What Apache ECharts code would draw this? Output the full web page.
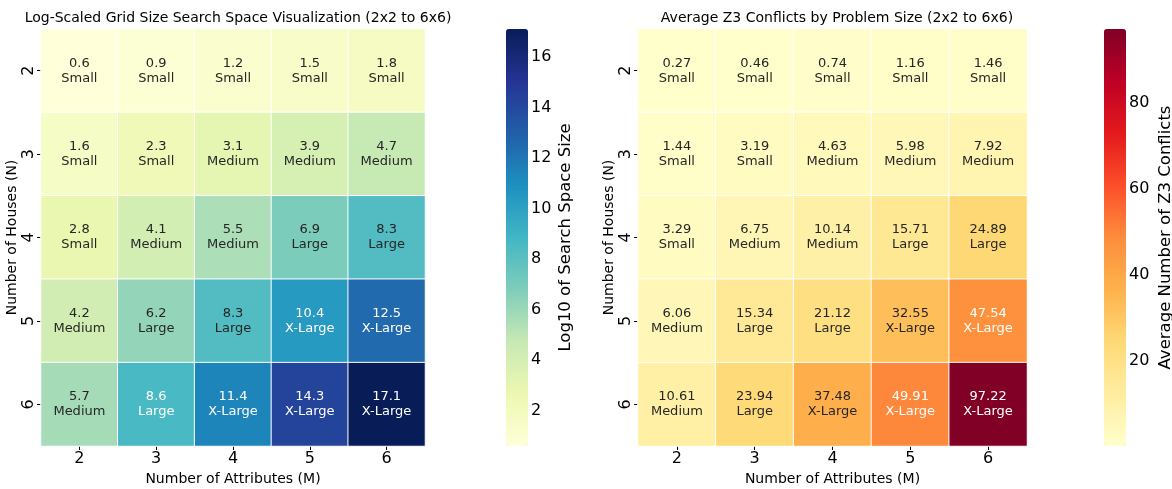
<!DOCTYPE html>
<html>
<head>
<meta charset="utf-8">
<script src="https://cdn.jsdelivr.net/npm/echarts@6/dist/echarts.min.js"></script>
<style>
  html, body { margin: 0; padding: 0; background: #fff; }
  #main { width: 1172px; height: 489px; }
</style>
</head>
<body>
<div id="main"></div>
<script>
// categories
const attrs = ["2", "3", "4", "5", "6"];   // M (x)
const houses = ["2", "3", "4", "5", "6"];  // N (y)

// log10 search space size, rows N=2..6, cols M=2..6
const logSize = [
  [0.6, 0.9, 1.2, 1.5, 1.8],
  [1.6, 2.3, 3.1, 3.9, 4.7],
  [2.8, 4.1, 5.5, 6.9, 8.3],
  [4.2, 6.2, 8.3, 10.4, 12.5],
  [5.7, 8.6, 11.4, 14.3, 17.1]
];

// average z3 conflicts
const conflicts = [
  [0.27, 0.46, 0.74, 1.16, 1.46],
  [1.44, 3.19, 4.63, 5.98, 7.92],
  [3.29, 6.75, 10.14, 15.71, 24.89],
  [6.06, 15.34, 21.12, 32.55, 47.54],
  [10.61, 23.94, 37.48, 49.91, 97.22]
];

// size category per cell
const sizeLabels = [
  ["Small", "Small", "Small", "Small", "Small"],
  ["Small", "Small", "Medium", "Medium", "Medium"],
  ["Small", "Medium", "Medium", "Large", "Large"],
  ["Medium", "Large", "Large", "X-Large", "X-Large"],
  ["Medium", "Large", "X-Large", "X-Large", "X-Large"]
];

const logTicks = [2, 4, 6, 8, 10, 12, 14, 16];
const conflictTicks = [20, 40, 60, 80];

const YlGnBu = ["#ffffd9", "#edf8b1", "#c7e9b4", "#7fcdbb", "#41b6c4", "#1d91c0", "#225ea8", "#253494", "#081d58"];
const YlOrRd = ["#ffffcc", "#ffeda0", "#fed976", "#feb24c", "#fd8d3c", "#fc4e2a", "#e31a1c", "#bd0026", "#800026"];

const FONT = "DejaVu Sans";

function flatMin(m) { return Math.min.apply(null, m.flat()); }
function flatMax(m) { return Math.max.apply(null, m.flat()); }

// build heatmap items, text goes white on dark cells
function buildData(mat, whiteAbove) {
  const out = [];
  mat.forEach(function (row, yi) {
    row.forEach(function (v, xi) {
      out.push({
        value: [xi, yi, v],
        label: { color: v > whiteAbove ? "#ffffff" : "#262626" }
      });
    });
  });
  return out;
}

function heatAxes(gridIndex) {
  return {
    x: {
      type: "category", gridIndex: gridIndex, data: attrs, position: "bottom",
      name: "Number of Attributes (M)", nameLocation: "middle", nameGap: 24,
      nameTextStyle: { fontFamily: FONT, fontSize: 14, color: "#000" },
      axisLine: { show: false },
      axisTick: { show: true, alignWithLabel: true, length: 4, lineStyle: { color: "#000" } },
      axisLabel: { fontFamily: FONT, fontSize: 16, color: "#000", margin: 5 },
      splitLine: { show: false }
    },
    y: {
      type: "category", gridIndex: gridIndex, data: houses, inverse: true,
      name: "Number of Houses (N)", nameLocation: "middle", nameGap: 22, nameRotate: 90,
      nameTextStyle: { fontFamily: FONT, fontSize: 14, color: "#000" },
      axisLine: { show: false },
      axisTick: { show: true, alignWithLabel: true, length: 4, lineStyle: { color: "#000" } },
      axisLabel: { fontFamily: FONT, fontSize: 16, color: "#000", rotate: 90, margin: 4 },
      splitLine: { show: false }
    }
  };
}

function cbarAxes(gridIndex, mn, mx, ticks, name, gap) {
  return {
    x: { type: "value", gridIndex: gridIndex, show: false },
    y: {
      type: "value", gridIndex: gridIndex, position: "right", min: mn, max: mx,
      name: name, nameLocation: "middle", nameRotate: 90, nameGap: gap,
      nameTextStyle: { fontFamily: FONT, fontSize: 16.5, color: "#000" },
      axisLine: { show: false },
      splitLine: { show: false },
      axisTick: { show: true, length: 4, customValues: ticks, lineStyle: { color: "#000" } },
      axisLabel: { fontFamily: FONT, fontSize: 16, color: "#000", margin: 3, customValues: ticks }
    }
  };
}

const hL = heatAxes(0), hR = heatAxes(1);
const lMin = flatMin(logSize), lMax = flatMax(logSize);
const cMin = flatMin(conflicts), cMax = flatMax(conflicts);
const cL = cbarAxes(2, lMin, lMax, logTicks, "Log10 of Search Space Size", 29);
const cR = cbarAxes(3, cMin, cMax, conflictTicks, "Average Number of Z3 Conflicts", 31);

const chart = echarts.init(document.getElementById("main"), null, { renderer: "canvas" });
chart.setOption({
  animation: false,
  backgroundColor: "#fff",
  title: [
    {
      text: "Log-Scaled Grid Size Search Space Visualization (2x2 to 6x6)",
      left: 233, top: 6, textAlign: "center",
      textStyle: { fontFamily: FONT, fontSize: 14, fontWeight: "normal", color: "#000" }
    },
    {
      text: "Average Z3 Conflicts by Problem Size (2x2 to 6x6)",
      left: 832, top: 6, textAlign: "center",
      textStyle: { fontFamily: FONT, fontSize: 14, fontWeight: "normal", color: "#000" }
    }
  ],
  grid: [
    { left: 41, top: 29, width: 384, height: 417, outerBoundsMode: "none" },
    { left: 638, top: 29, width: 389, height: 417, outerBoundsMode: "none" },
    { left: 506, top: 29, width: 22, height: 417, outerBoundsMode: "none" },
    { left: 1104, top: 29, width: 22, height: 417, outerBoundsMode: "none" }
  ],
  xAxis: [hL.x, hR.x, cL.x, cR.x],
  yAxis: [hL.y, hR.y, cL.y, cR.y],
  visualMap: [
    {
      type: "continuous", seriesIndex: 0, min: lMin, max: lMax,
      calculable: false, hoverLink: false, padding: 0,
      left: 506, top: 29, itemWidth: 22, itemHeight: 417,
      inRange: { color: YlGnBu }
    },
    {
      type: "continuous", seriesIndex: 1, min: cMin, max: cMax,
      calculable: false, hoverLink: false, padding: 0,
      left: 1104, top: 29, itemWidth: 22, itemHeight: 417,
      inRange: { color: YlOrRd }
    }
  ],
  series: [
    {
      type: "heatmap", xAxisIndex: 0, yAxisIndex: 0,
      data: buildData(logSize, 8.5),
      itemStyle: { borderColor: "#fff", borderWidth: 1 },
      label: {
        show: true, fontFamily: FONT, fontSize: 13, lineHeight: 15,
        formatter: function (p) {
          return p.value[2].toFixed(1) + "\n" + sizeLabels[p.value[1]][p.value[0]];
        }
      },
      emphasis: { disabled: true }
    },
    {
      type: "heatmap", xAxisIndex: 1, yAxisIndex: 1,
      data: buildData(conflicts, 45),
      itemStyle: { borderColor: "#fff", borderWidth: 1 },
      label: {
        show: true, fontFamily: FONT, fontSize: 13, lineHeight: 15,
        formatter: function (p) {
          return p.value[2].toFixed(2) + "\n" + sizeLabels[p.value[1]][p.value[0]];
        }
      },
      emphasis: { disabled: true }
    }
  ]
});
</script>
</body>
</html>
